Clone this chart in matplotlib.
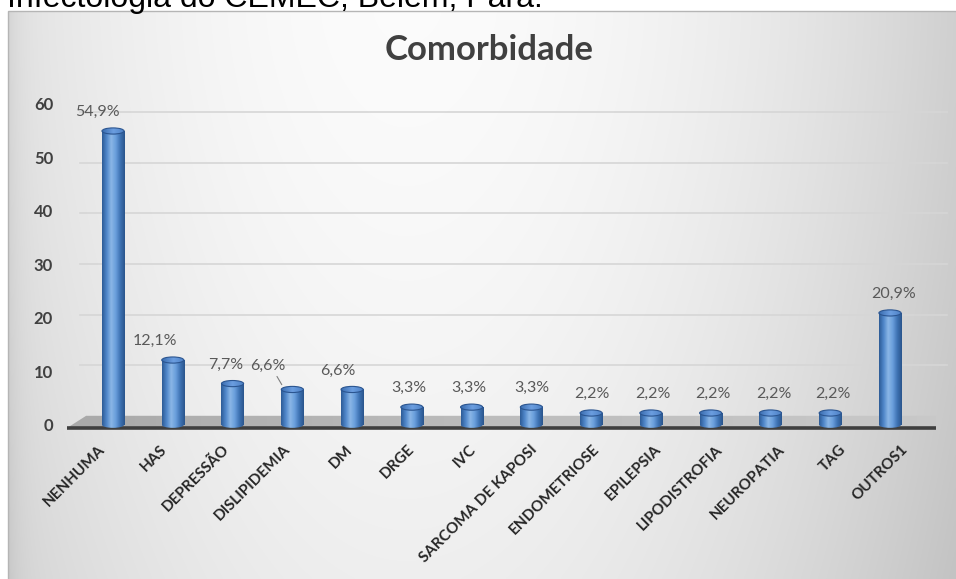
import numpy as np
import matplotlib
matplotlib.use("Agg")
import matplotlib.pyplot as plt
from matplotlib.patches import Rectangle, Ellipse, Polygon
from matplotlib.colors import LinearSegmentedColormap

# ---- data -------------------------------------------------------------
categories = ["NENHUMA", "HAS", "DEPRESSÃO", "DISLIPIDEMIA", "DM", "DRGE", "IVC",
              "SARCOMA DE KAPOSI", "ENDOMETRIOSE", "EPILEPSIA", "LIPODISTROFIA",
              "NEUROPATIA", "TAG", "OUTROS1"]
values = [54.9, 12.1, 7.7, 6.6, 6.6, 3.3, 3.3, 3.3, 2.2, 2.2, 2.2, 2.2, 2.2, 20.9]
y_ticks = [0, 10, 20, 30, 40, 50, 60]
title = "Comorbidade"
caption = "Infectologia do CEMEC, Belém, Pará."

# ---- styling ----------------------------------------------------------
FONT = ["Lato", "DejaVu Sans"]
W, H = 956, 579
label_nudge_px = [-16, -18, -7, -17, -14, -3, -3, 0, 1, 2, 2, 3, 3, 4]
leader_lines = {"DISLIPIDEMIA"}
bar_w = 0.37
cap_h = 1.15
# back wall of the 3-D box: gridlines sit slightly lower and compressed
wall_scale, wall_shift = 0.946, 1.68

fig = plt.figure(figsize=(W / 100, H / 100), dpi=100)
fig.patch.set_facecolor("white")

# caption line above the chart box (runs past the top of the page)
fig.text(7 / W, 1 - 7 / H, caption, family=["Liberation Sans", "DejaVu Sans"],
         fontsize=23, color="black", ha="left", va="baseline")

# chart box with soft grey gradient
bg = fig.add_axes([8 / W, 0, 1 - 8 / W, 1 - 11 / H])
bg.set_axis_off()
gx = np.linspace(0, 1, 400)
gy = np.linspace(0, 1, 300)
X, Y = np.meshgrid(gx, gy)
L = np.where(X > 0.42,
             0.985 - 0.17 * ((X - 0.42) / 0.58) ** 2,
             0.985 - 0.10 * ((0.42 - X) / 0.42) ** 2)
L = L - 0.05 * Y ** 1.5
L = L - 0.05 * np.exp(-X / 0.012)
bg.imshow(np.dstack([L, L, L]), extent=[0, 1, 0, 1], origin="upper",
          aspect="auto", interpolation="bilinear")
bg.set_xlim(0, 1)
bg.set_ylim(0, 1)
fig.add_artist(Rectangle((8 / W, -0.01), 1, 1 - 11 / H + 0.01,
                         transform=fig.transFigure, fill=False,
                         edgecolor="#b5b5b5", linewidth=1.0))

# plotting area
ax = fig.add_axes([67 / W, (H - 428) / H, 869 / W, (428 - 93) / H])
ax.set_facecolor("none")
x = np.arange(len(categories))
ax.set_xlim(-0.77, len(categories) - 1 + 0.77)
ax.set_ylim(-0.6, 62)
ax.set_autoscale_on(False)
for s in ax.spines.values():
    s.set_visible(False)

# gridlines on the back wall
for t in y_ticks[1:]:
    yb = wall_shift + wall_scale * t
    ax.plot([-0.55, len(categories) - 1 + 0.95], [yb, yb], color="#d6d6d6",
            lw=1.2, zorder=1, clip_on=False)

# floor of the box
floor = Polygon([(-0.77, -0.6), (len(categories) - 1 + 0.77, -0.6),
                 (len(categories) - 1 + 1.0, wall_shift), (-0.45, wall_shift)],
                closed=True, transform=ax.transData, facecolor="none",
                edgecolor="none")
ax.add_patch(floor)
fgrad = np.linspace(0.0, 1.0, 256).reshape(1, -1)
floor_cmap = LinearSegmentedColormap.from_list("floor", ["#a9a9a9", "#bdbdbd", "#c9c9c9"])
fim = ax.imshow(fgrad, extent=[-0.8, len(categories) + 0.1, -0.6, wall_shift],
                cmap=floor_cmap, aspect="auto", zorder=2, clip_on=True)
fim.set_clip_path(floor)
ax.plot([-0.77, len(categories) - 1 + 0.77], [-0.6, -0.6], color="#3f3f3f",
        lw=2.6, zorder=3, solid_capstyle="butt", clip_on=False)

# cylinder bars
body_cmap = LinearSegmentedColormap.from_list(
    "cyl", ["#2d5b96", "#4f86c9", "#8ab6e6", "#6a9fdc", "#3e72b3", "#2a558c"])
cap_cmap = LinearSegmentedColormap.from_list(
    "cap", ["#3a6db0", "#6c9ee0", "#4a7fc4"])
hgrad = np.linspace(0, 1, 128).reshape(1, -1)
for xi, v in zip(x, values):
    x0, x1 = xi - bar_w / 2, xi + bar_w / 2
    base = Ellipse((xi, 0), bar_w, cap_h, transform=ax.transData)
    ax.add_patch(base)
    base.set_visible(False)
    im0 = ax.imshow(hgrad, extent=[x0, x1, -cap_h / 2, cap_h / 2], cmap=body_cmap,
                    aspect="auto", zorder=4)
    im0.set_clip_path(base)
    body = Rectangle((x0, 0), bar_w, v, transform=ax.transData)
    ax.add_patch(body)
    body.set_visible(False)
    im1 = ax.imshow(hgrad, extent=[x0, x1, 0, v], cmap=body_cmap,
                    aspect="auto", zorder=4)
    im1.set_clip_path(body)
    top = Ellipse((xi, v), bar_w, cap_h, facecolor="none",
                  edgecolor="#2b5590", lw=0.8, zorder=6)
    ax.add_patch(top)
    im2 = ax.imshow(hgrad, extent=[x0, x1, v - cap_h / 2, v + cap_h / 2],
                    cmap=cap_cmap, aspect="auto", zorder=5)
    im2.set_clip_path(top)

# value labels
for xi, v, name, dx in zip(x, values, categories, label_nudge_px):
    txt = f"{v:.1f}%".replace(".", ",")
    kw = {}
    dy = 19
    if name in leader_lines:
        dy = 24
        kw["arrowprops"] = dict(arrowstyle="-", color="#7f7f7f", lw=0.8,
                                relpos=(0.7, 0.0), shrinkA=1, shrinkB=4)
    ax.annotate(txt, xy=(xi - (bar_w * 0.35 if kw else 0), v),
                xytext=(dx, dy), textcoords="offset pixels",
                ha="center", va="center", fontsize=11.5, color="#595959",
                family=FONT, zorder=7, **kw)

# axes ticks
ax.set_yticks(y_ticks)
ax.set_yticklabels([str(t) for t in y_ticks], family=FONT, fontweight="bold",
                   fontsize=12, color="#404040")
ax.tick_params(axis="y", length=0, pad=10)
spread = -10 / 59.8 + (1 + 2 / 59.8) * x
ax.set_xticks(spread)
ax.set_xticklabels(categories, family=FONT, fontweight="bold", fontsize=11,
                   color="#262626", rotation=45, rotation_mode="anchor",
                   ha="right", va="center")
ax.tick_params(axis="x", length=0, pad=14)

fig.text(489 / W, 1 - 50 / H, title, family=FONT, fontweight="bold",
         fontsize=25, color="#404040", ha="center", va="center")

fig.savefig("out.png", dpi=100, facecolor="white")
